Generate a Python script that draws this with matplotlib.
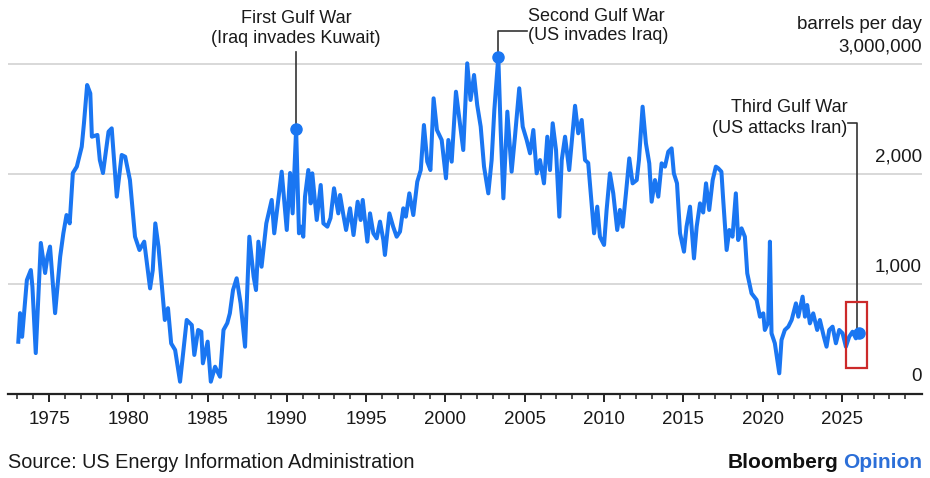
import matplotlib
matplotlib.use("Agg")
import matplotlib.pyplot as plt
import matplotlib.transforms as mtransforms
from matplotlib.patches import Rectangle
import numpy as np

plt.rcParams['font.family'] = ['Liberation Sans', 'DejaVu Sans']

# ---- data (thousand barrels per day) ----
dates = [1973.06, 1973.17, 1973.3, 1973.6, 1973.85, 1973.95, 1974.16, 1974.48, 1974.75, 1974.9,
         1975.06, 1975.38, 1975.7, 1975.9, 1976.1, 1976.3, 1976.5, 1976.75, 1977.06, 1977.2,
         1977.4, 1977.6, 1977.7, 1978.05, 1978.2, 1978.4, 1978.75, 1978.95, 1979.27, 1979.58,
         1979.8, 1980.1, 1980.42, 1980.7, 1981.0, 1981.37, 1981.54, 1981.7, 1981.9, 1982.3,
         1982.5, 1982.7, 1982.95, 1983.26, 1983.68, 1984.0, 1984.16, 1984.4, 1984.6, 1984.7,
         1985.0, 1985.2, 1985.47, 1985.78, 1986.0, 1986.24, 1986.4, 1986.6, 1986.83, 1987.08,
         1987.36, 1987.63, 1987.9, 1988.05, 1988.2, 1988.4, 1988.7, 1989.04, 1989.2, 1989.67,
         1989.99, 1990.2, 1990.36, 1990.58, 1990.76, 1990.9, 1991.03, 1991.14, 1991.35, 1991.5,
         1991.6, 1991.88, 1992.13, 1992.3, 1992.55, 1992.75, 1992.97, 1993.24, 1993.35, 1993.56,
         1993.73, 1993.98, 1994.2, 1994.46, 1994.65, 1994.78, 1995.07, 1995.24, 1995.45, 1995.66,
         1995.87, 1996.08, 1996.18, 1996.46, 1996.7, 1996.92, 1997.13, 1997.34, 1997.5, 1997.72,
         1997.97, 1998.22, 1998.44, 1998.64, 1998.85, 1999.05, 1999.25, 1999.46, 1999.76, 2000.03,
         2000.18, 2000.39, 2000.66, 2000.91, 2001.12, 2001.37, 2001.58, 2001.8, 2002.0, 2002.22,
         2002.43, 2002.7, 2002.91, 2003.08, 2003.33, 2003.48, 2003.65, 2003.9, 2004.17, 2004.38,
         2004.65, 2004.87, 2005.12, 2005.33, 2005.54, 2005.75, 2005.96, 2006.21, 2006.42, 2006.59,
         2006.76, 2006.97, 2007.18, 2007.33, 2007.54, 2007.8, 2008.17, 2008.37, 2008.59, 2008.8,
         2009.0, 2009.37, 2009.57, 2009.74, 2010.0, 2010.16, 2010.37, 2010.58, 2010.83, 2011.0,
         2011.17, 2011.38, 2011.59, 2011.8, 2012.06, 2012.2, 2012.43, 2012.64, 2012.85, 2013.0,
         2013.21, 2013.42, 2013.63, 2013.84, 2014.05, 2014.26, 2014.4, 2014.6, 2014.79, 2015.04,
         2015.2, 2015.42, 2015.67, 2015.84, 2016.05, 2016.25, 2016.43, 2016.63, 2016.85, 2017.05,
         2017.2, 2017.4, 2017.5, 2017.73, 2017.9, 2018.1, 2018.31, 2018.46, 2018.67, 2018.88,
         2019.03, 2019.3, 2019.62, 2019.83, 2020.04, 2020.14, 2020.35, 2020.46, 2020.56, 2020.77,
         2021.05, 2021.19, 2021.4, 2021.62, 2021.83, 2022.1, 2022.25, 2022.52, 2022.67, 2022.81,
         2022.98, 2023.19, 2023.44, 2023.61, 2023.86, 2024.03, 2024.2, 2024.41, 2024.62, 2024.83,
         2025.04, 2025.25, 2025.46, 2025.67, 2025.88, 2026.07]
values = [475, 735, 520, 1036, 1127, 975, 372, 1373, 1100, 1248,
          1340, 735, 1248, 1460, 1627, 1551, 2009, 2067, 2248, 2461,
          2809, 2733, 2339, 2355, 2127, 2009, 2385, 2415, 1794, 2173,
          2157, 1945, 1430, 1309, 1385, 960, 1127, 1551, 1340, 673,
          780, 460, 400, 112, 673, 627, 355, 582, 566, 279,
          476, 112, 248, 157, 582, 645, 733, 945, 1052, 824,
          430, 1430, 1067, 945, 1385, 1157, 1551, 1764, 1461, 2021,
          1491, 2009, 1642, 2410, 1461, 1521, 1430, 1794, 2036, 1733,
          2006, 1582, 1900, 1551, 1521, 1600, 1870, 1642, 1809, 1627,
          1491, 1688, 1445, 1748, 1582, 1764, 1385, 1642, 1461, 1415,
          1567, 1400, 1264, 1642, 1521, 1430, 1476, 1688, 1612, 1824,
          1627, 1930, 2036, 2445, 2112, 2036, 2688, 2400, 2309, 1961,
          2309, 2112, 2748, 2461, 2218, 3006, 2673, 2900, 2627, 2430,
          2067, 1824, 2127, 2582, 3067, 2400, 1779, 2567, 2021, 2339,
          2779, 2430, 2309, 2188, 2400, 2006, 2127, 1915, 2339, 2036,
          2461, 2218, 1612, 2127, 2339, 2036, 2620, 2370, 2491, 2127,
          2100, 1461, 1703, 1430, 1355, 1673, 2006, 1824, 1491, 1673,
          1521, 1824, 2142, 1915, 1945, 2127, 2612, 2279, 2097, 1748,
          1945, 1794, 2097, 2067, 2203, 2233, 2006, 1915, 1461, 1294,
          1521, 1703, 1233, 1521, 1733, 1650, 1915, 1673, 1945, 2067,
          2052, 2021, 1794, 1309, 1491, 1430, 1824, 1400, 1506, 1430,
          1097, 915, 855, 703, 733, 582, 650, 1385, 552, 461,
          188, 491, 582, 612, 673, 824, 703, 885, 703, 809,
          642, 733, 582, 673, 521, 430, 582, 612, 461, 582,
          552, 430, 521, 566, 506, 555]

y_ticks = [0, 1000, 2000, 3000]
y_tick_labels = ["0", "1,000", "2,000", "3,000,000"]
x_major = [1975, 1980, 1985, 1990, 1995, 2000, 2005, 2010, 2015, 2020, 2025]
x_minor = list(range(1973, 2030))

event_titles = ["First Gulf War", "Second Gulf War", "Third Gulf War"]
event_subtitles = ["(Iraq invades Kuwait)", "(US invades Iraq)", "(US attacks Iran)"]
event_dates = [1990.58, 2003.33, 2026.07]

unit_label = "barrels per day"
source_text = "Source: US Energy Information Administration"

BLUE = "#1A76F2"
GRID = "#d6d6d6"
TXT = "#1a1a1a"

fig = plt.figure(figsize=(9.30, 4.78), dpi=100)
ax = fig.add_axes([8/930, 84/478, 914/930, 352/478])
ax.set_xlim(1972.41, 2030.05)
ax.set_ylim(0, 3200)

for s in ["top", "left", "right"]:
    ax.spines[s].set_visible(False)
ax.spines["bottom"].set_color("#222222")
ax.spines["bottom"].set_linewidth(1.6)

ax.set_yticks([])
for v in y_ticks[1:]:
    ax.axhline(v, color=GRID, lw=1.3, zorder=0)

trans_y = mtransforms.blended_transform_factory(ax.transAxes, ax.transData)
for v, lab in zip(y_ticks, y_tick_labels):
    ax.text(1.0, v + 155, lab, transform=trans_y, ha="right", va="center",
            fontsize=13.5, color=TXT)
ax.text(1.0, 3000 + 355, unit_label, transform=trans_y, ha="right", va="center",
        fontsize=13.5, color=TXT, clip_on=False)

ax.set_xticks(x_major)
ax.set_xticklabels([str(x) for x in x_major])
ax.set_xticks(x_minor, minor=True)
ax.tick_params(axis="x", which="major", length=6, width=1.4, color="#222222",
               labelsize=13.5, pad=6, labelcolor=TXT)
ax.tick_params(axis="x", which="minor", length=3.5, width=1.1, color="#222222")

ax.plot(dates, values, color=BLUE, lw=2.9, solid_joinstyle="round", zorder=3)

# event markers
d = np.array(dates)
v = np.array(values)
idx = [int(np.argmin(np.abs(d - e))) for e in event_dates]
for i in idx:
    ax.plot(d[i], v[i], "o", color=BLUE, ms=8, zorder=4, clip_on=False)

lc = "#333333"
# First Gulf War
x0, y0 = d[idx[0]], v[idx[0]]
ax.plot([x0, x0], [y0, 3110], color=lc, lw=1.2, zorder=2, clip_on=False)
ax.text(x0, 3418, event_titles[0], ha="center", va="center", fontsize=13, color=TXT, clip_on=False)
ax.text(x0, 3236, event_subtitles[0], ha="center", va="center", fontsize=13, color=TXT, clip_on=False)
# Second Gulf War
x1, y1 = d[idx[1]], v[idx[1]]
ax.plot([x1, x1, 2005.14], [y1, 3300, 3300], color=lc, lw=1.2, zorder=2, clip_on=False)
ax.text(2005.2, 3436, event_titles[1], ha="left", va="center", fontsize=13, color=TXT, clip_on=False)
ax.text(2005.2, 3255, event_subtitles[1], ha="left", va="center", fontsize=13, color=TXT, clip_on=False)
# Third Gulf War
x2, y2 = d[idx[2]], v[idx[2]]
ax.plot([2025.4, 2025.98, 2025.98], [2464, 2464, y2], color=lc, lw=1.2, zorder=2)
ax.text(2025.35, 2600, event_titles[2], ha="right", va="center", fontsize=13, color=TXT)
ax.text(2025.35, 2418, event_subtitles[2], ha="right", va="center", fontsize=13, color=TXT)
ax.add_patch(Rectangle((2025.25, 233), 1.3, 606, fill=False, edgecolor="#cc2a2a", lw=1.6, zorder=5))

# footer
fig.text(8/930, 1 - 463/478, source_text, ha="left", va="center", fontsize=14.3, color=TXT)
fig.canvas.draw()
t_op = fig.text(922/930, 1 - 463/478, "Opinion", ha="right", va="center", fontsize=15,
                color="#2C6FD8", fontweight="semibold")
fig.canvas.draw()
bb = t_op.get_window_extent()
fig.text((bb.x0 - 5) / 930, 1 - 463/478, "Bloomberg", ha="right", va="center", fontsize=15,
         color="#111111", fontweight="bold")

fig.savefig("out.png", dpi=100, facecolor="white")
